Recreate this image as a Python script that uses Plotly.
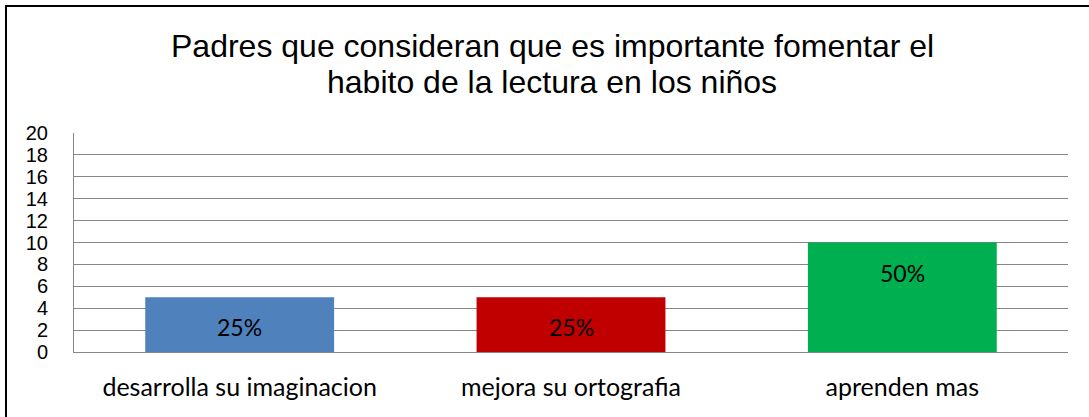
import plotly.graph_objects as go

categories = ["desarrolla su imaginacion", "mejora su ortografia", "aprenden mas"]
values = [5, 5, 10]
labels = ["25%", "25%", "50%"]
colors = ["#4F81BD", "#C00000", "#00B050"]
y_ticks = list(range(0, 21, 2))
title_lines = ["Padres que consideran que es importante fomentar el",
               "habito de la lectura en los niños"]

W, H = 1089, 417
L, R, T, B = 74, 21, 133, 65
pw, ph = W - L - R, H - T - B

def px_x(x):
    return (x - L) / pw

def px_y(y):
    return (H - B - y) / ph

fig = go.Figure()
fig.add_trace(go.Bar(
    x=categories, y=values, marker=dict(color=colors, line=dict(width=0)),
    showlegend=False, hoverinfo="skip"
))

for c, v, t in zip(categories, values, labels):
    fig.add_annotation(x=c, y=v, text=t, showarrow=False, xref="x", yref="y",
                       yanchor="middle", yshift=-30,
                       font=dict(family="Lato, Open Sans, sans-serif", size=23, color="#000000"))

for line, yc in zip(title_lines, [46, 82]):
    fig.add_annotation(x=px_x(552), y=px_y(yc), xref="paper", yref="paper",
                       text=line, showarrow=False, xanchor="center", yanchor="middle",
                       font=dict(family="Liberation Sans, Arial, sans-serif", size=32, color="#000000"))

fig.add_shape(type="rect", xref="paper", yref="paper",
              x0=px_x(6), x1=px_x(1150), y0=px_y(480), y1=px_y(6),
              line=dict(color="#000000", width=2), layer="above")

fig.update_layout(
    width=W, height=H,
    margin=dict(l=L, r=R, t=T, b=B, autoexpand=False),
    paper_bgcolor="#FFFFFF", plot_bgcolor="#FFFFFF",
    bargap=0.43,
    xaxis=dict(showgrid=False, showline=True, linecolor="#868686", linewidth=1,
               ticks="", tickfont=dict(family="Lato, Open Sans, sans-serif", size=25, color="#000000"),
               ticklabelstandoff=13),
    yaxis=dict(range=[0, 20], tickvals=y_ticks, showgrid=True, gridcolor="#868686", gridwidth=1,
               showline=True, linecolor="#868686", linewidth=1, zeroline=False, ticks="",
               tickfont=dict(family="Liberation Sans, Arial, sans-serif", size=20, color="#000000"),
               ticklabelstandoff=21),
)

fig.write_html("out.html", config={"displayModeBar": False},
               post_script="document.body.style.margin='0';document.body.style.overflow='hidden';")
